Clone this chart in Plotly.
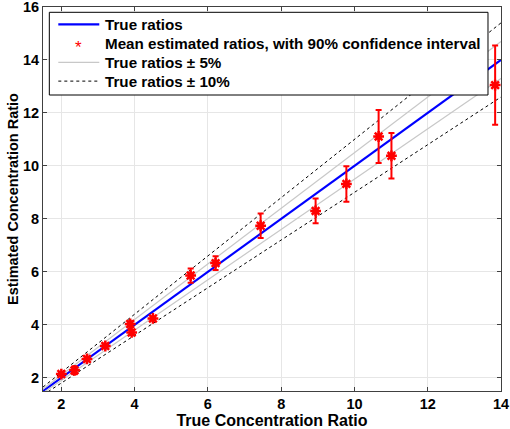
import plotly.graph_objects as go

# Data
true_ratio = [2.0, 2.36, 2.70, 3.20, 3.88, 3.92, 4.50, 5.53, 6.21, 7.44, 8.94, 9.78, 10.66, 11.01, 13.84]
est_ratio = [2.14, 2.28, 2.71, 3.20, 4.03, 3.71, 4.24, 5.86, 6.33, 7.74, 8.30, 9.32, 11.11, 10.38, 13.05]
ci_half = [0.08, 0.15, 0.08, 0.08, 0.10, 0.10, 0.06, 0.27, 0.26, 0.46, 0.47, 0.67, 1.0, 0.86, 1.5]

line_x = [1.5, 14]
x_range = [1.5, 14]
y_range = [1.5, 16]
x_ticks = [2, 4, 6, 8, 10, 12, 14]
y_ticks = [2, 4, 6, 8, 10, 12, 14, 16]

legend_labels = ["True ratios",
                 "Mean estimated ratios, with 90% confidence interval",
                 "True ratios \u00b1 5%",
                 "True ratios \u00b1 10%"]

FONT = "Liberation Sans, Arial, sans-serif"
BLUE = "#0000ff"
RED = "#ff0000"
GRAY = "#c8c8c8"

fig = go.Figure()
fig.add_trace(go.Scatter(x=line_x, y=line_x, mode="lines", name=legend_labels[0],
                         line=dict(color=BLUE, width=2.2)))
fig.add_trace(go.Scatter(x=line_x, y=[v * 1.05 for v in line_x], mode="lines",
                         name=legend_labels[2], line=dict(color=GRAY, width=1.2)))
fig.add_trace(go.Scatter(x=line_x, y=[v * 0.95 for v in line_x], mode="lines",
                         name=legend_labels[2], line=dict(color=GRAY, width=1.2)))
fig.add_trace(go.Scatter(x=line_x, y=[v * 1.10 for v in line_x], mode="lines",
                         name=legend_labels[3], line=dict(color="black", width=1, dash="dot")))
fig.add_trace(go.Scatter(x=line_x, y=[v * 0.90 for v in line_x], mode="lines",
                         name=legend_labels[3], line=dict(color="black", width=1, dash="dot")))
fig.add_trace(go.Scatter(x=true_ratio, y=est_ratio, mode="markers",
                         name=legend_labels[1],
                         marker=dict(symbol="asterisk-open", size=9, color=RED,
                                     line=dict(color=RED, width=2.5)),
                         error_y=dict(type="data", array=ci_half, color=RED,
                                      thickness=2, width=3)))

# Legend drawn as a boxed key in the top-left of the plot area
L, R, T, B = 0.0138, 0.9716, 0.9862, 0.7708
rows = [0.955, 0.904, 0.856, 0.807]
sx0, sx1, mx, tx = 0.0334, 0.1229, 0.0771, 0.1317
shapes = [dict(type="rect", xref="paper", yref="paper", x0=L, x1=R, y0=B, y1=T,
               fillcolor="white", line=dict(color="black", width=1), layer="above")]
sample_styles = [dict(color=BLUE, width=2.2), None,
                 dict(color=GRAY, width=1.2), dict(color="black", width=1, dash="dot")]
for yy, st in zip(rows, sample_styles):
    if st is not None:
        shapes.append(dict(type="line", xref="paper", yref="paper", x0=sx0, x1=sx1,
                           y0=yy, y1=yy, line=st, layer="above"))
annotations = []
for yy, lab in zip(rows, legend_labels):
    annotations.append(dict(xref="paper", yref="paper", x=tx, y=yy, text=f"<b>{lab}</b>",
                            showarrow=False, xanchor="left", yanchor="middle",
                            font=dict(family=FONT, size=15.2, color="black")))
annotations.append(dict(xref="paper", yref="paper", x=mx, y=rows[1], text="*",
                        showarrow=False, xanchor="center", yanchor="middle", yshift=-4,
                        font=dict(family=FONT, size=17, color=RED)))

axis_common = dict(showline=True, linecolor="#404040", linewidth=1, mirror="allticks",
                   ticks="inside", ticklen=4, tickcolor="#404040", automargin=False,
                   ticklabeloverflow="allow",
                   showgrid=True, gridcolor="#e6e6e6", gridwidth=1, zeroline=False,
                   tickfont=dict(family=FONT, size=14.5, color="black"))

fig.update_layout(
    width=510, height=429,
    margin=dict(l=43, r=9, t=7, b=38, pad=0),
    paper_bgcolor="white", plot_bgcolor="white",
    font=dict(family=FONT, color="black"),
    showlegend=False,
    shapes=shapes,
    annotations=annotations,
    xaxis=dict(range=x_range, tickvals=x_ticks,
               ticktext=[f"<b>{t}</b>" for t in x_ticks],
               title=dict(text="<b>True Concentration Ratio</b>", font=dict(size=16), standoff=0),
               **axis_common),
    yaxis=dict(range=y_range, tickvals=y_ticks,
               ticktext=[f"<b>{t}</b>" for t in y_ticks],
               title=dict(text="<b>Estimated Concentration Ratio</b>", font=dict(size=14.5), standoff=0),
               **axis_common),
)

fig.write_html("out.html", config={"displayModeBar": False},
               post_script="document.body.style.margin='0px';document.body.style.overflow='hidden';")
